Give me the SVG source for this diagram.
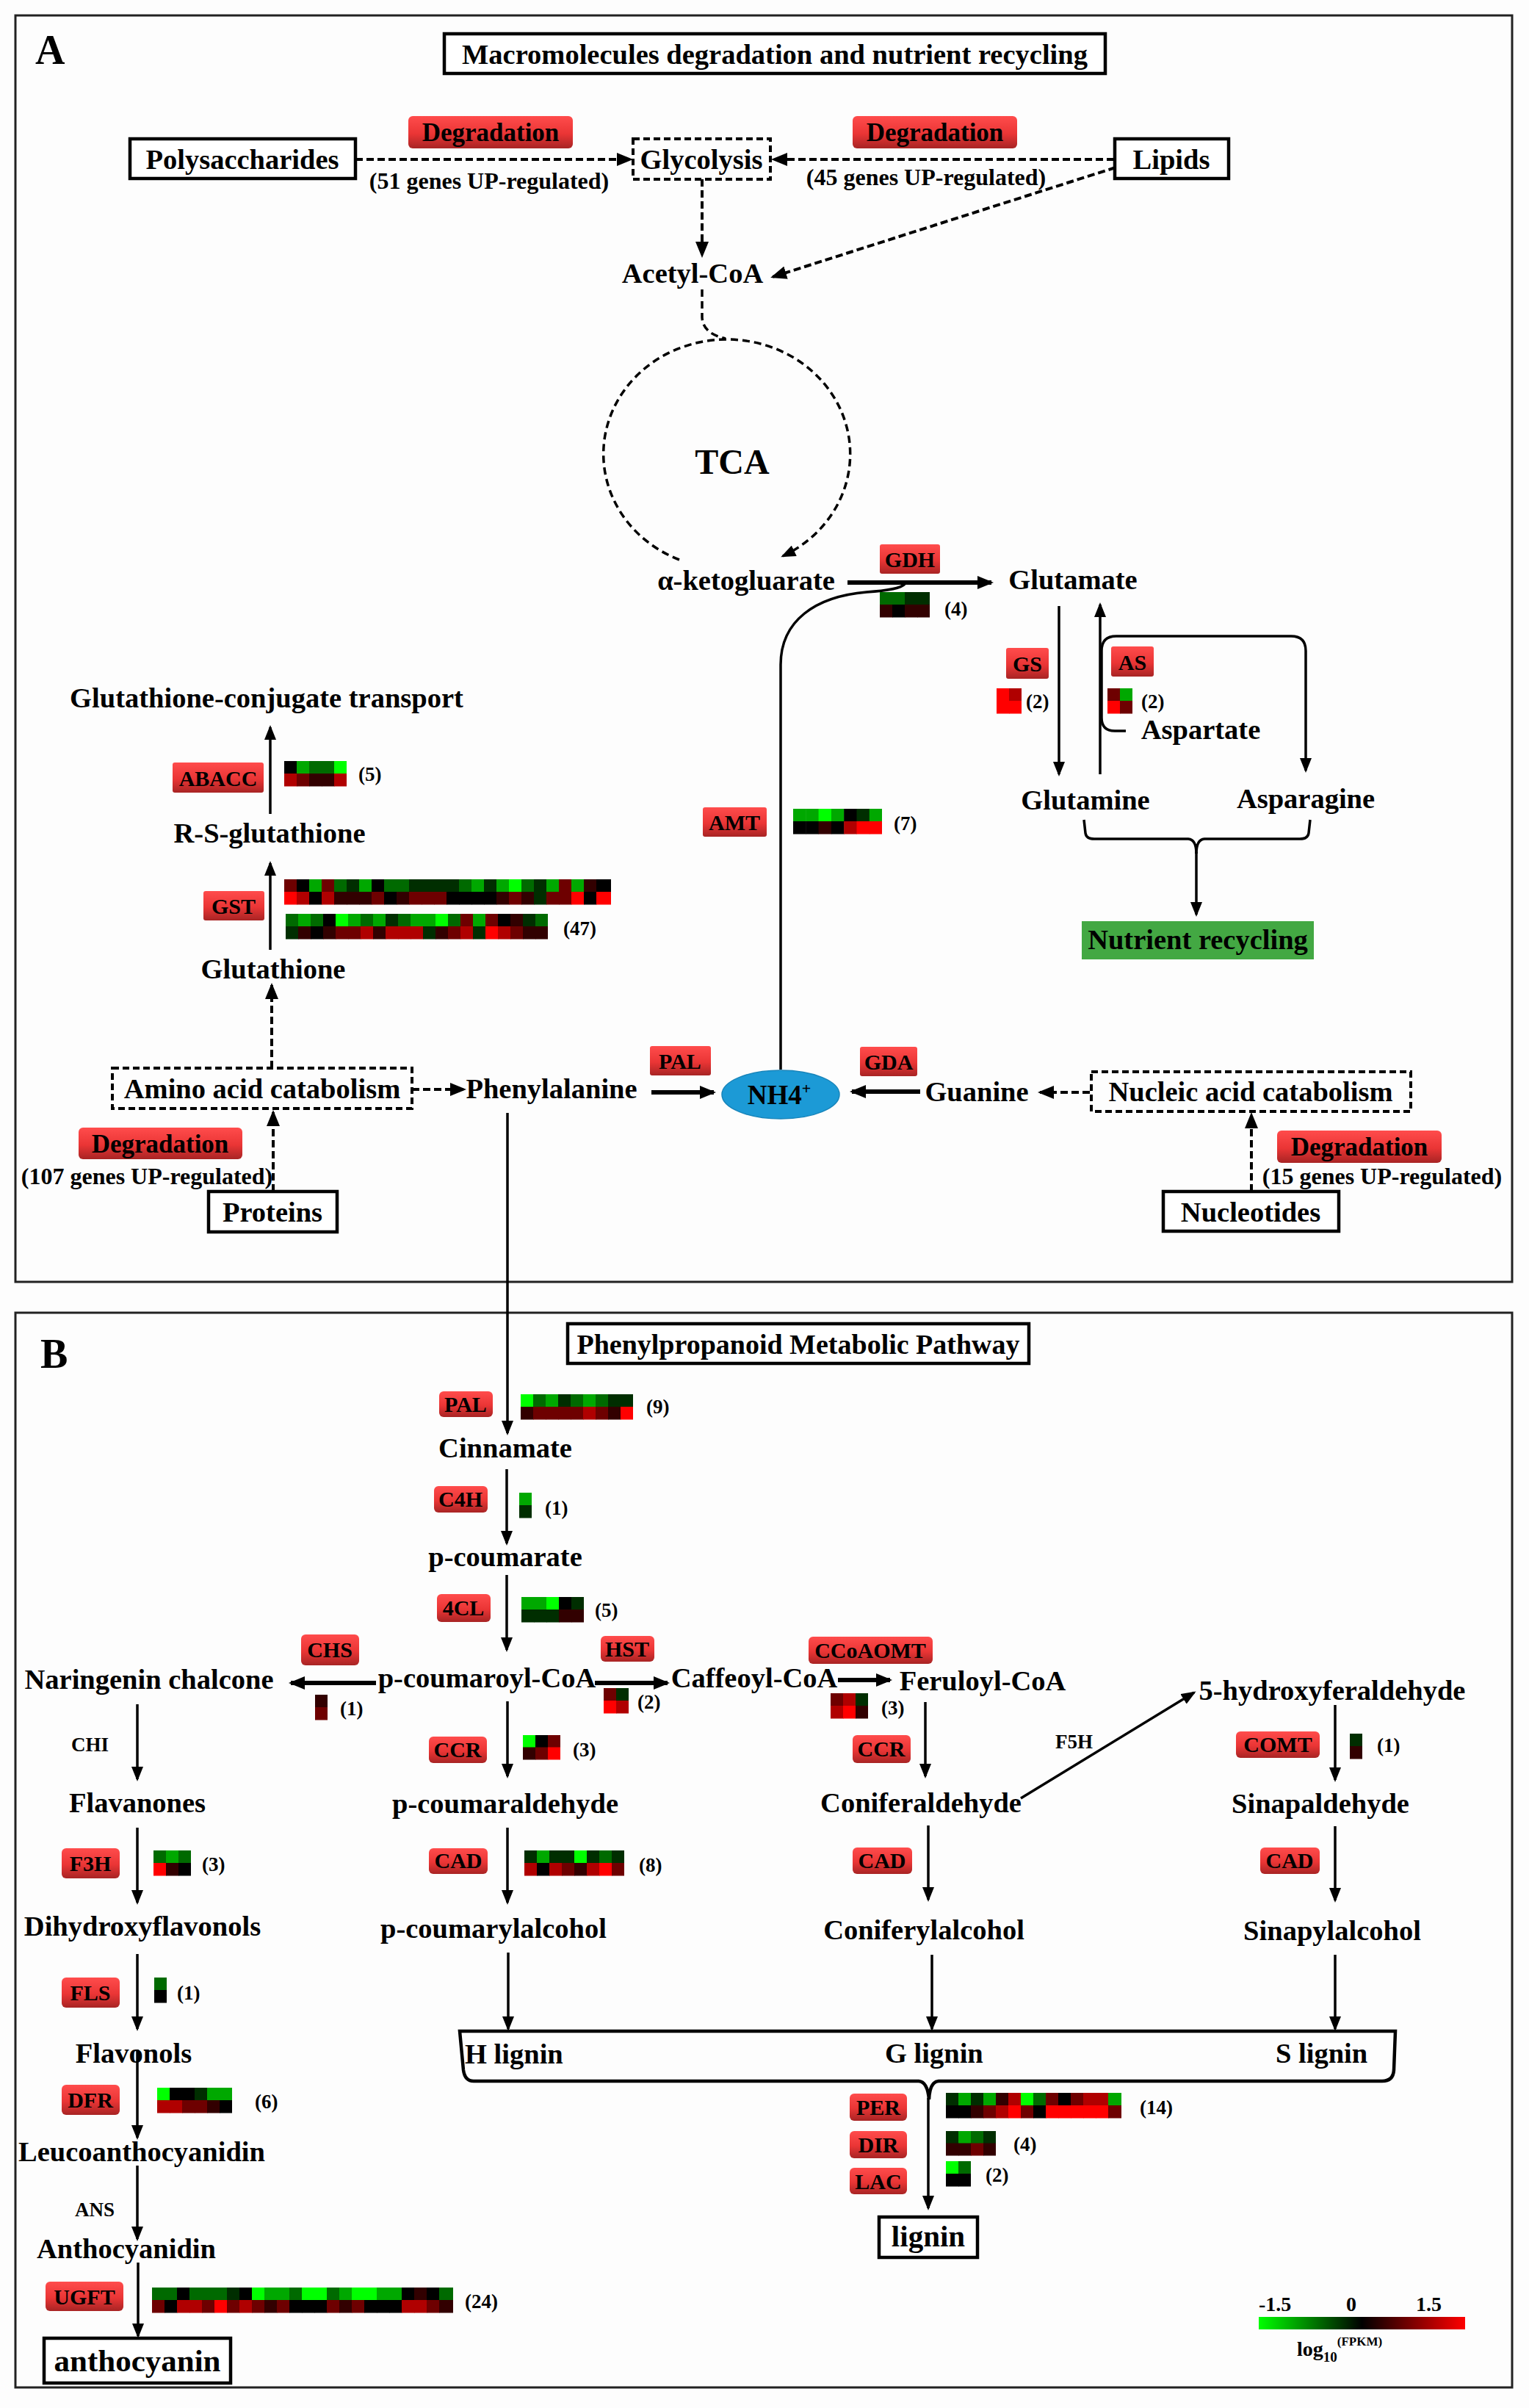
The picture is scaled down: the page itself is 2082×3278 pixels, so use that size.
<svg xmlns="http://www.w3.org/2000/svg" width="2082" height="3278" viewBox="0 0 2082 3278">
<defs>
<linearGradient id="bad" x1="0" y1="0" x2="0" y2="1">
<stop offset="0" stop-color="#FF4C4C"/><stop offset="0.55" stop-color="#EA3535"/><stop offset="1" stop-color="#A82424"/>
</linearGradient>
<linearGradient id="cbar" x1="0" y1="0" x2="1" y2="0">
<stop offset="0" stop-color="#00FF00"/><stop offset="0.5" stop-color="#000000"/><stop offset="1" stop-color="#FF0000"/>
</linearGradient>
<marker id="ah" markerWidth="22" markerHeight="18" refX="19" refY="9" orient="auto" markerUnits="userSpaceOnUse"><path d="M0,0 L22,9 L0,18 z" fill="#000"/></marker>
<marker id="ahs" markerWidth="20" markerHeight="16" refX="17" refY="8" orient="auto" markerUnits="userSpaceOnUse"><path d="M0,0 L20,8 L0,16 z" fill="#000"/></marker>
<style>
text{font-family:"Liberation Serif","Times New Roman",serif;font-weight:bold;fill:#000}
.n{font-size:38.5px}
.nm{font-size:38.5px;text-anchor:middle}
.bd{font-size:30px;text-anchor:middle}
.c{font-size:27px}
.dg{font-size:35px;text-anchor:middle}
.up{font-size:32px;text-anchor:middle}
.lab{font-size:27px}
.badge{fill:url(#bad)}
.box{fill:#fff;stroke:#000;stroke-width:4.5}
.dbox{fill:none;stroke:#000;stroke-width:4;stroke-dasharray:9 5}
.frame{fill:none;stroke:#222;stroke-width:3}
.ln{fill:none;stroke:#000;stroke-width:3.5}
.lnm{fill:none;stroke:#000;stroke-width:3.5;marker-end:url(#ahs)}
.thk{fill:none;stroke:#000;stroke-width:6;marker-end:url(#ah)}
.dsh{fill:none;stroke:#000;stroke-width:4;stroke-dasharray:10 5;marker-end:url(#ah)}
.g3{fill:#00FF00}.g2{fill:#00A800}.g1{fill:#006A00}.g0{fill:#002E00}.k{fill:#000}.r0{fill:#320000}.r1{fill:#6E0000}.r2{fill:#B00000}.r3{fill:#FF0000}
</style>
</defs>
<rect width="2082" height="3278" fill="#FDFDFD"/>
<rect class="frame" x="21" y="21" width="2038" height="1724"/>
<rect class="frame" x="21" y="1787" width="2038" height="1463"/>

<g id="connectors">
<line class="dsh" x1="484" y1="217" x2="859" y2="217"/>
<line class="dsh" x1="1517" y1="217" x2="1053" y2="217"/>
<line class="dsh" x1="956" y1="244" x2="956" y2="348"/>
<line class="dsh" x1="1519" y1="228" x2="1052" y2="377"/>
<path d="M956 394 L956 432 Q957 454 988 461" fill="none" stroke="#000" stroke-width="3.5" stroke-dasharray="10 6"/>
<path d="M925 762 A168 156 0 1 1 1066 757" fill="none" stroke="#000" stroke-width="3.5" stroke-dasharray="10 6" marker-end="url(#ahs)"/>
<line class="thk" x1="1154" y1="793" x2="1350" y2="793"/>
<path class="ln" d="M1063 1456 L1063 905 C1063 845 1110 812 1180 806 Q1225 803 1232 795"/>
<line class="lnm" x1="1442" y1="825" x2="1442" y2="1054"/>
<line class="lnm" x1="1498" y1="1054" x2="1498" y2="823"/>
<path class="lnm" d="M1533 995 L1518 995 Q1500 995 1500 977 L1500 886 Q1500 866 1520 866 L1758 866 Q1778 866 1778 886 L1778 1049"/>
<path class="ln" d="M1476 1116 L1478 1134 Q1479 1142 1490 1142 L1618 1142 Q1629 1143 1629 1162"/>
<path class="ln" d="M1629 1162 Q1629 1143 1640 1142 L1770 1142 Q1781 1142 1782 1134 L1784 1116"/>
<line class="lnm" x1="1629" y1="1160" x2="1629" y2="1245"/>
<line class="lnm" x1="368" y1="1108" x2="368" y2="990"/>
<line class="lnm" x1="368" y1="1293" x2="368" y2="1175"/>
<line class="dsh" x1="370" y1="1454" x2="370" y2="1341"/>
<line class="dsh" x1="372" y1="1622" x2="372" y2="1514"/>
<line class="dsh" x1="561" y1="1483" x2="632" y2="1483"/>
<line class="thk" x1="887" y1="1487" x2="972" y2="1487"/>
<line class="thk" x1="1253" y1="1486" x2="1160" y2="1486"/>
<line class="dsh" x1="1484" y1="1487" x2="1416" y2="1487"/>
<line class="dsh" x1="1704" y1="1622" x2="1704" y2="1517"/>
<line class="lnm" x1="691" y1="1515" x2="691" y2="1951"/>
<line class="lnm" x1="690" y1="2000" x2="690" y2="2101"/>
<line class="lnm" x1="690" y1="2144" x2="690" y2="2246"/>
<line class="thk" x1="512" y1="2291" x2="396" y2="2291"/>
<line class="thk" x1="810" y1="2291" x2="909" y2="2291"/>
<line class="thk" x1="1141" y1="2287" x2="1212" y2="2287"/>
<line class="lnm" x1="187" y1="2320" x2="187" y2="2422"/>
<line class="lnm" x1="691" y1="2316" x2="691" y2="2418"/>
<line class="lnm" x1="1260" y1="2317" x2="1260" y2="2418"/>
<line class="lnm" x1="1390" y1="2448" x2="1626" y2="2304"/>
<line class="lnm" x1="1818" y1="2321" x2="1818" y2="2423"/>
<line class="lnm" x1="187" y1="2488" x2="187" y2="2590"/>
<line class="lnm" x1="691" y1="2488" x2="691" y2="2590"/>
<line class="lnm" x1="1264" y1="2485" x2="1264" y2="2586"/>
<line class="lnm" x1="1818" y1="2486" x2="1818" y2="2587"/>
<line class="lnm" x1="187" y1="2660" x2="187" y2="2762"/>
<line class="lnm" x1="692" y1="2658" x2="692" y2="2762"/>
<line class="lnm" x1="1269" y1="2661" x2="1269" y2="2762"/>
<line class="lnm" x1="1818" y1="2661" x2="1818" y2="2762"/>
<line class="lnm" x1="187" y1="2790" x2="187" y2="2910"/>
<line class="lnm" x1="187" y1="2948" x2="187" y2="3048"/>
<line class="lnm" x1="188" y1="3080" x2="188" y2="3180"/>
<line class="lnm" x1="1264" y1="2856" x2="1264" y2="3006"/>
</g>

<g id="title-A"><text x="48" y="87" font-size="56">A</text>
<rect class="box" x="605" y="46" width="900" height="54"/>
<text x="1055" y="87" font-size="38.5" text-anchor="middle">Macromolecules degradation and nutrient recycling</text></g>

<g id="polysaccharides"><rect class="box" x="177" y="189" width="307" height="54"/><text class="nm" x="330" y="230">Polysaccharides</text></g>
<g id="glycolysis"><rect class="dbox" x="862" y="189" width="187" height="55"/><text class="nm" x="955" y="230">Glycolysis</text></g>
<g id="lipids"><rect class="box" x="1518" y="189" width="155" height="54"/><text class="nm" x="1595" y="230">Lipids</text></g>
<g id="deg1"><rect class="badge" x="556" y="158" width="224" height="44" rx="6"/><text class="dg" x="668" y="192">Degradation</text><text class="up" x="666" y="257">(51 genes UP-regulated)</text></g>
<g id="deg2"><rect class="badge" x="1161" y="158" width="224" height="44" rx="6"/><text class="dg" x="1273" y="192">Degradation</text><text class="up" x="1261" y="252">(45 genes UP-regulated)</text></g>
<g id="acetylcoa"><text class="nm" x="943" y="385">Acetyl-CoA</text></g>
<g id="tca"><text x="997" y="645" font-size="48" text-anchor="middle">TCA</text></g>
<g id="aketo"><text class="nm" x="1016" y="803">α-ketogluarate</text></g>
<g id="gdh"><rect class="badge" x="1198" y="741" width="82" height="40" rx="3"/><text class="bd" x="1239" y="772">GDH</text>
<g transform="translate(1198,806)"><rect class="g1" x="0" y="0" width="17.5" height="17.5"/><rect class="g1" x="17" y="0" width="17.5" height="17.5"/><rect class="g0" x="34" y="0" width="17.5" height="17.5"/><rect class="g0" x="51" y="0" width="17" height="17.5"/><rect class="r0" x="0" y="17" width="17.5" height="17.5"/><rect class="k" x="17" y="17" width="17.5" height="17.5"/><rect class="r0" x="34" y="17" width="17.5" height="17.5"/><rect class="r0" x="51" y="17" width="17" height="17.5"/></g>
<text class="c" x="1286" y="838">(4)</text></g>
<g id="glutamate"><text class="nm" x="1461" y="802">Glutamate</text></g>
<g id="gs"><rect class="badge" x="1370" y="882" width="58" height="42" rx="3"/><text class="bd" x="1399" y="914">GS</text>
<g transform="translate(1357,937)"><rect class="r3" x="0" y="0" width="17.5" height="17.5"/><rect class="r2" x="17" y="0" width="17" height="17.5"/><rect class="r3" x="0" y="17" width="17.5" height="17.5"/><rect class="r3" x="17" y="17" width="17" height="17.5"/></g>
<text class="c" x="1397" y="964">(2)</text></g>
<g id="as"><rect class="badge" x="1513" y="880" width="58" height="41" rx="3"/><text class="bd" x="1542" y="912">AS</text>
<g transform="translate(1508,937)"><rect class="r1" x="0" y="0" width="17.5" height="17.5"/><rect class="g2" x="17" y="0" width="17" height="17.5"/><rect class="r3" x="0" y="17" width="17.5" height="17.5"/><rect class="r1" x="17" y="17" width="17" height="17.5"/></g>
<text class="c" x="1554" y="964">(2)</text></g>
<g id="aspartate"><text class="nm" x="1635" y="1006">Aspartate</text></g>
<g id="glutamine"><text class="nm" x="1478" y="1102">Glutamine</text></g>
<g id="asparagine"><text class="nm" x="1778" y="1100">Asparagine</text></g>
<g id="nutrient"><rect x="1473" y="1254" width="316" height="52" fill="#43A843"/><text class="nm" x="1631" y="1292">Nutrient recycling</text></g>
<g id="gct"><text class="nm" x="363" y="963">Glutathione-conjugate transport</text></g>
<g id="abacc"><rect class="badge" x="235" y="1038" width="124" height="41" rx="3"/><text class="bd" x="297" y="1070">ABACC</text>
<g transform="translate(387,1036)"><rect class="k" x="0" y="0" width="17.5" height="17.5"/><rect class="g2" x="17" y="0" width="17.5" height="17.5"/><rect class="g1" x="34" y="0" width="17.5" height="17.5"/><rect class="g1" x="51" y="0" width="17.5" height="17.5"/><rect class="g3" x="68" y="0" width="17" height="17.5"/><rect class="r2" x="0" y="17" width="17.5" height="17.5"/><rect class="r1" x="17" y="17" width="17.5" height="17.5"/><rect class="r0" x="34" y="17" width="17.5" height="17.5"/><rect class="r0" x="51" y="17" width="17.5" height="17.5"/><rect class="r2" x="68" y="17" width="17" height="17.5"/></g>
<text class="c" x="488" y="1063">(5)</text></g>
<g id="rsg"><text class="nm" x="367" y="1147">R-S-glutathione</text></g>
<g id="gst"><rect class="badge" x="277" y="1213" width="83" height="40" rx="3"/><text class="bd" x="318" y="1244">GST</text>
<g transform="translate(387,1197)">
<rect class="r1" x="0" y="0" width="17.5" height="17.5"/><rect class="k" x="17" y="0" width="17.5" height="17.5"/><rect class="g2" x="34" y="0" width="17.5" height="17.5"/><rect class="r1" x="51" y="0" width="17.5" height="17.5"/><rect class="g1" x="68" y="0" width="17.5" height="17.5"/><rect class="g0" x="85" y="0" width="17.5" height="17.5"/><rect class="g2" x="102" y="0" width="17.5" height="17.5"/><rect class="k" x="119" y="0" width="17.5" height="17.5"/><rect class="g1" x="136" y="0" width="17.5" height="17.5"/><rect class="g1" x="153" y="0" width="17.5" height="17.5"/><rect class="g0" x="170" y="0" width="17.5" height="17.5"/><rect class="g0" x="187" y="0" width="17.5" height="17.5"/><rect class="g0" x="204" y="0" width="17.5" height="17.5"/><rect class="g0" x="221" y="0" width="17.5" height="17.5"/><rect class="g1" x="238" y="0" width="17.5" height="17.5"/><rect class="g2" x="255" y="0" width="17.5" height="17.5"/><rect class="g0" x="272" y="0" width="17.5" height="17.5"/><rect class="g2" x="289" y="0" width="17.5" height="17.5"/><rect class="g3" x="306" y="0" width="17.5" height="17.5"/><rect class="g1" x="323" y="0" width="17.5" height="17.5"/><rect class="g0" x="340" y="0" width="17.5" height="17.5"/><rect class="g2" x="357" y="0" width="17.5" height="17.5"/><rect class="r1" x="374" y="0" width="17.5" height="17.5"/><rect class="g2" x="391" y="0" width="17.5" height="17.5"/><rect class="r0" x="408" y="0" width="17.5" height="17.5"/><rect class="k" x="425" y="0" width="20" height="17.5"/>
<rect class="r3" x="0" y="17" width="17.5" height="17.5"/><rect class="r2" x="17" y="17" width="17.5" height="17.5"/><rect class="k" x="34" y="17" width="17.5" height="17.5"/><rect class="r2" x="51" y="17" width="17.5" height="17.5"/><rect class="r0" x="68" y="17" width="17.5" height="17.5"/><rect class="r0" x="85" y="17" width="17.5" height="17.5"/><rect class="r0" x="102" y="17" width="17.5" height="17.5"/><rect class="r1" x="119" y="17" width="17.5" height="17.5"/><rect class="k" x="136" y="17" width="17.5" height="17.5"/><rect class="r0" x="153" y="17" width="17.5" height="17.5"/><rect class="r1" x="170" y="17" width="17.5" height="17.5"/><rect class="r1" x="187" y="17" width="17.5" height="17.5"/><rect class="r1" x="204" y="17" width="17.5" height="17.5"/><rect class="k" x="221" y="17" width="17.5" height="17.5"/><rect class="k" x="238" y="17" width="17.5" height="17.5"/><rect class="k" x="255" y="17" width="17.5" height="17.5"/><rect class="k" x="272" y="17" width="17.5" height="17.5"/><rect class="r0" x="289" y="17" width="17.5" height="17.5"/><rect class="r1" x="306" y="17" width="17.5" height="17.5"/><rect class="r0" x="323" y="17" width="17.5" height="17.5"/><rect class="g0" x="340" y="17" width="17.5" height="17.5"/><rect class="r1" x="357" y="17" width="17.5" height="17.5"/><rect class="r1" x="374" y="17" width="17.5" height="17.5"/><rect class="r3" x="391" y="17" width="17.5" height="17.5"/><rect class="k" x="408" y="17" width="17.5" height="17.5"/><rect class="r3" x="425" y="17" width="20" height="17.5"/></g>
<g transform="translate(389,1244)">
<rect class="g1" x="0" y="0" width="17.5" height="17.5"/><rect class="g2" x="17" y="0" width="17.5" height="17.5"/><rect class="g1" x="34" y="0" width="17.5" height="17.5"/><rect class="k" x="51" y="0" width="17.5" height="17.5"/><rect class="g3" x="68" y="0" width="17.5" height="17.5"/><rect class="g2" x="85" y="0" width="17.5" height="17.5"/><rect class="g1" x="102" y="0" width="17.5" height="17.5"/><rect class="g2" x="119" y="0" width="17.5" height="17.5"/><rect class="g0" x="136" y="0" width="17.5" height="17.5"/><rect class="g1" x="153" y="0" width="17.5" height="17.5"/><rect class="g2" x="170" y="0" width="17.5" height="17.5"/><rect class="g2" x="187" y="0" width="17.5" height="17.5"/><rect class="g3" x="204" y="0" width="17.5" height="17.5"/><rect class="g1" x="221" y="0" width="17.5" height="17.5"/><rect class="r1" x="238" y="0" width="17.5" height="17.5"/><rect class="g2" x="255" y="0" width="17.5" height="17.5"/><rect class="r1" x="272" y="0" width="17.5" height="17.5"/><rect class="k" x="289" y="0" width="17.5" height="17.5"/><rect class="r0" x="306" y="0" width="17.5" height="17.5"/><rect class="g0" x="323" y="0" width="17.5" height="17.5"/><rect class="g1" x="340" y="0" width="17" height="17.5"/>
<rect class="g0" x="0" y="17" width="17.5" height="17.5"/><rect class="r0" x="17" y="17" width="17.5" height="17.5"/><rect class="k" x="34" y="17" width="17.5" height="17.5"/><rect class="r0" x="51" y="17" width="17.5" height="17.5"/><rect class="r1" x="68" y="17" width="17.5" height="17.5"/><rect class="r1" x="85" y="17" width="17.5" height="17.5"/><rect class="r2" x="102" y="17" width="17.5" height="17.5"/><rect class="r0" x="119" y="17" width="17.5" height="17.5"/><rect class="r2" x="136" y="17" width="17.5" height="17.5"/><rect class="r2" x="153" y="17" width="17.5" height="17.5"/><rect class="r2" x="170" y="17" width="17.5" height="17.5"/><rect class="g0" x="187" y="17" width="17.5" height="17.5"/><rect class="r0" x="204" y="17" width="17.5" height="17.5"/><rect class="r1" x="221" y="17" width="17.5" height="17.5"/><rect class="r2" x="238" y="17" width="17.5" height="17.5"/><rect class="g0" x="255" y="17" width="17.5" height="17.5"/><rect class="r3" x="272" y="17" width="17.5" height="17.5"/><rect class="r2" x="289" y="17" width="17.5" height="17.5"/><rect class="r1" x="306" y="17" width="17.5" height="17.5"/><rect class="r0" x="323" y="17" width="17.5" height="17.5"/><rect class="r0" x="340" y="17" width="17" height="17.5"/></g>
<text class="c" x="767" y="1273">(47)</text></g>
<g id="glutathione"><text class="nm" x="372" y="1332">Glutathione</text></g>
<g id="amt"><rect class="badge" x="957" y="1099" width="87" height="40" rx="3"/><text class="bd" x="1000" y="1130">AMT</text>
<g transform="translate(1080,1101)"><rect class="g2" x="0" y="0" width="17.8" height="17.5"/><rect class="g2" x="17.3" y="0" width="17.8" height="17.5"/><rect class="g3" x="34.6" y="0" width="17.8" height="17.5"/><rect class="g2" x="51.9" y="0" width="17.8" height="17.5"/><rect class="k" x="69.2" y="0" width="17.8" height="17.5"/><rect class="g0" x="86.5" y="0" width="17.8" height="17.5"/><rect class="g2" x="103.8" y="0" width="17.2" height="17.5"/><rect class="k" x="0" y="17" width="17.8" height="17.5"/><rect class="k" x="17.3" y="17" width="17.8" height="17.5"/><rect class="r0" x="34.6" y="17" width="17.8" height="17.5"/><rect class="k" x="51.9" y="17" width="17.8" height="17.5"/><rect class="r2" x="69.2" y="17" width="17.8" height="17.5"/><rect class="r3" x="86.5" y="17" width="17.8" height="17.5"/><rect class="r3" x="103.8" y="17" width="17.2" height="17.5"/></g>
<text class="c" x="1217" y="1130">(7)</text></g>
<g id="amino"><rect class="dbox" x="153" y="1454" width="408" height="55"/><text class="nm" x="357" y="1495">Amino acid catabolism</text></g>
<g id="phenylalanine"><text class="nm" x="751" y="1495">Phenylalanine</text></g>
<g id="palA"><rect class="badge" x="885" y="1424" width="83" height="40" rx="3"/><text class="bd" x="926" y="1455">PAL</text></g>
<g id="nh4"><ellipse cx="1063" cy="1490" rx="80" ry="33" fill="#1C9AD6" stroke="#1784BA" stroke-width="1.5"/><text x="1061" y="1503" font-size="37" text-anchor="middle">NH4<tspan dy="-14" font-size="22">+</tspan></text></g>
<g id="gda"><rect class="badge" x="1171" y="1425" width="78" height="40" rx="3"/><text class="bd" x="1210" y="1456">GDA</text></g>
<g id="guanine"><text class="nm" x="1330" y="1499">Guanine</text></g>
<g id="nucleic"><rect class="dbox" x="1486" y="1459" width="435" height="54"/><text class="nm" x="1703" y="1499">Nucleic acid catabolism</text></g>
<g id="deg3"><rect class="badge" x="1739" y="1539" width="224" height="44" rx="6"/><text class="dg" x="1851" y="1573">Degradation</text><text class="up" x="1882" y="1612">(15 genes UP-regulated)</text></g>
<g id="deg4"><rect class="badge" x="107" y="1535" width="223" height="43" rx="6"/><text class="dg" x="218" y="1569">Degradation</text><text class="up" x="200" y="1612">(107 genes UP-regulated)</text></g>
<g id="proteins"><rect class="box" x="284" y="1622" width="175" height="55"/><text class="nm" x="371" y="1663">Proteins</text></g>
<g id="nucleotides"><rect class="box" x="1584" y="1622" width="239" height="54"/><text class="nm" x="1703" y="1663">Nucleotides</text></g>

<g id="title-B"><text x="55" y="1862" font-size="56">B</text>
<rect class="box" x="773" y="1802" width="628" height="54"/><text x="1087" y="1843" font-size="38" text-anchor="middle">Phenylpropanoid Metabolic Pathway</text></g>

<g id="palB"><rect class="badge" x="598" y="1894" width="73" height="35" rx="6"/><text class="bd" x="634" y="1922">PAL</text>
<g transform="translate(709,1898)"><rect class="g3" x="0" y="0" width="17.5" height="17.5"/><rect class="g1" x="17" y="0" width="17.5" height="17.5"/><rect class="g2" x="34" y="0" width="17.5" height="17.5"/><rect class="g0" x="51" y="0" width="17.5" height="17.5"/><rect class="g1" x="68" y="0" width="17.5" height="17.5"/><rect class="g2" x="85" y="0" width="17.5" height="17.5"/><rect class="g1" x="102" y="0" width="17.5" height="17.5"/><rect class="g0" x="119" y="0" width="17.5" height="17.5"/><rect class="g0" x="136" y="0" width="17" height="17.5"/><rect class="r0" x="0" y="17" width="17.5" height="17.5"/><rect class="r1" x="17" y="17" width="17.5" height="17.5"/><rect class="r1" x="34" y="17" width="17.5" height="17.5"/><rect class="r1" x="51" y="17" width="17.5" height="17.5"/><rect class="r1" x="68" y="17" width="17.5" height="17.5"/><rect class="r2" x="85" y="17" width="17.5" height="17.5"/><rect class="r1" x="102" y="17" width="17.5" height="17.5"/><rect class="r0" x="119" y="17" width="17.5" height="17.5"/><rect class="r3" x="136" y="17" width="17" height="17.5"/></g>
<text class="c" x="880" y="1924">(9)</text></g>
<g id="cinnamate"><text class="nm" x="688" y="1984">Cinnamate</text></g>
<g id="c4h"><rect class="badge" x="591" y="2023" width="73" height="36" rx="6"/><text class="bd" x="627" y="2051">C4H</text>
<g transform="translate(707,2032)"><rect class="g2" x="0" y="0" width="17" height="17.5"/><rect class="g0" x="0" y="17" width="17" height="17.5"/></g>
<text class="c" x="742" y="2062">(1)</text></g>
<g id="pcoumarate"><text class="nm" x="688" y="2132">p-coumarate</text></g>
<g id="c4l"><rect class="badge" x="595" y="2170" width="73" height="38" rx="6"/><text class="bd" x="631" y="2199">4CL</text>
<g transform="translate(710,2174)"><rect class="g2" x="0" y="0" width="17.5" height="17.5"/><rect class="g2" x="17" y="0" width="17.5" height="17.5"/><rect class="g3" x="34" y="0" width="17.5" height="17.5"/><rect class="k" x="51" y="0" width="17.5" height="17.5"/><rect class="g0" x="68" y="0" width="17" height="17.5"/><rect class="g0" x="0" y="17" width="17.5" height="17.5"/><rect class="g0" x="17" y="17" width="17.5" height="17.5"/><rect class="g0" x="34" y="17" width="17.5" height="17.5"/><rect class="r0" x="51" y="17" width="17.5" height="17.5"/><rect class="r0" x="68" y="17" width="17" height="17.5"/></g>
<text class="c" x="810" y="2201">(5)</text></g>
<g id="pcoumaroylcoa"><text class="nm" x="663" y="2297">p-coumaroyl-CoA</text></g>
<g id="naringenin"><text class="nm" x="203" y="2299">Naringenin chalcone</text></g>
<g id="chs"><rect class="badge" x="410" y="2225" width="79" height="42" rx="6"/><text class="bd" x="449" y="2256">CHS</text>
<g transform="translate(429,2307)"><rect class="r0" x="0" y="0" width="17" height="17.5"/><rect class="r1" x="0" y="17" width="17" height="17.5"/></g>
<text class="c" x="463" y="2335">(1)</text></g>
<g id="hst"><rect class="badge" x="818" y="2227" width="73" height="35" rx="6"/><text class="bd" x="854" y="2255">HST</text>
<g transform="translate(822,2298)"><rect class="r1" x="0" y="0" width="17.5" height="17.5"/><rect class="g0" x="17" y="0" width="17" height="17.5"/><rect class="r3" x="0" y="17" width="17.5" height="17.5"/><rect class="r2" x="17" y="17" width="17" height="17.5"/></g>
<text class="c" x="868" y="2326">(2)</text></g>
<g id="caffeoyl"><text class="nm" x="1027" y="2297">Caffeoyl-CoA</text></g>
<g id="ccoaomt"><rect class="badge" x="1101" y="2228" width="169" height="37" rx="6"/><text class="bd" x="1185" y="2257">CCoAOMT</text>
<g transform="translate(1131,2305)"><rect class="r1" x="0" y="0" width="17.5" height="17.5"/><rect class="r2" x="17" y="0" width="17.5" height="17.5"/><rect class="g0" x="34" y="0" width="17" height="17.5"/><rect class="r2" x="0" y="17" width="17.5" height="17.5"/><rect class="r3" x="17" y="17" width="17.5" height="17.5"/><rect class="r0" x="34" y="17" width="17" height="17.5"/></g>
<text class="c" x="1200" y="2334">(3)</text></g>
<g id="feruloyl"><text class="nm" x="1338" y="2301">Feruloyl-CoA</text></g>
<g id="hydroxyfer"><text class="nm" x="1814" y="2314">5-hydroxyferaldehyde</text></g>
<g id="chi"><text class="lab" x="97" y="2384">CHI</text></g>
<g id="ccr1"><rect class="badge" x="584" y="2364" width="79" height="36" rx="6"/><text class="bd" x="623" y="2392">CCR</text>
<g transform="translate(712,2362)"><rect class="g3" x="0" y="0" width="17.5" height="17"/><rect class="k" x="17" y="0" width="17.5" height="17"/><rect class="r1" x="34" y="0" width="17" height="17"/><rect class="r0" x="0" y="16.5" width="17.5" height="17"/><rect class="r1" x="17" y="16.5" width="17.5" height="17"/><rect class="r3" x="34" y="16.5" width="17" height="17"/></g>
<text class="c" x="780" y="2391">(3)</text></g>
<g id="ccr2"><rect class="badge" x="1161" y="2362" width="79" height="38" rx="6"/><text class="bd" x="1200" y="2391">CCR</text></g>
<g id="f5h"><text class="lab" x="1437" y="2380">F5H</text></g>
<g id="comt"><rect class="badge" x="1683" y="2357" width="114" height="36" rx="6"/><text class="bd" x="1740" y="2385">COMT</text>
<g transform="translate(1838,2360)"><rect class="g0" x="0" y="0" width="17" height="17.5"/><rect class="r0" x="0" y="17" width="17" height="17.5"/></g>
<text class="c" x="1875" y="2385">(1)</text></g>
<g id="flavanones"><text class="nm" x="187" y="2467">Flavanones</text></g>
<g id="pcoumaraldehyde"><text class="nm" x="688" y="2468">p-coumaraldehyde</text></g>
<g id="coniferaldehyde"><text class="nm" x="1254" y="2467">Coniferaldehyde</text></g>
<g id="sinapaldehyde"><text class="nm" x="1798" y="2468">Sinapaldehyde</text></g>
<g id="f3h"><rect class="badge" x="84" y="2516" width="79" height="41" rx="6"/><text class="bd" x="123" y="2547">F3H</text>
<g transform="translate(209,2519)"><rect class="g1" x="0" y="0" width="17.5" height="17.5"/><rect class="g2" x="17" y="0" width="17.5" height="17.5"/><rect class="g1" x="34" y="0" width="17" height="17.5"/><rect class="r3" x="0" y="17" width="17.5" height="17.5"/><rect class="r0" x="17" y="17" width="17.5" height="17.5"/><rect class="k" x="34" y="17" width="17" height="17.5"/></g>
<text class="c" x="275" y="2547">(3)</text></g>
<g id="cad1"><rect class="badge" x="584" y="2516" width="80" height="35" rx="6"/><text class="bd" x="624" y="2543">CAD</text>
<g transform="translate(714,2519)"><rect class="g0" x="0" y="0" width="17.5" height="17.5"/><rect class="g2" x="17" y="0" width="17.5" height="17.5"/><rect class="g0" x="34" y="0" width="17.5" height="17.5"/><rect class="g0" x="51" y="0" width="17.5" height="17.5"/><rect class="g3" x="68" y="0" width="17.5" height="17.5"/><rect class="g0" x="85" y="0" width="17.5" height="17.5"/><rect class="g1" x="102" y="0" width="17.5" height="17.5"/><rect class="g0" x="119" y="0" width="17" height="17.5"/><rect class="r2" x="0" y="17" width="17.5" height="17.5"/><rect class="k" x="17" y="17" width="17.5" height="17.5"/><rect class="r2" x="34" y="17" width="17.5" height="17.5"/><rect class="r1" x="51" y="17" width="17.5" height="17.5"/><rect class="r0" x="68" y="17" width="17.5" height="17.5"/><rect class="r2" x="85" y="17" width="17.5" height="17.5"/><rect class="r3" x="102" y="17" width="17.5" height="17.5"/><rect class="r1" x="119" y="17" width="17" height="17.5"/></g>
<text class="c" x="870" y="2548">(8)</text></g>
<g id="cad2"><rect class="badge" x="1161" y="2515" width="81" height="36" rx="6"/><text class="bd" x="1201" y="2543">CAD</text></g>
<g id="cad3"><rect class="badge" x="1716" y="2515" width="81" height="36" rx="6"/><text class="bd" x="1756" y="2543">CAD</text></g>
<g id="dihydroxyflavonols"><text class="nm" x="194" y="2635">Dihydroxyflavonols</text></g>
<g id="pcoumarylalcohol"><text class="nm" x="672" y="2638">p-coumarylalcohol</text></g>
<g id="coniferylalcohol"><text class="nm" x="1258" y="2640">Coniferylalcohol</text></g>
<g id="sinapylalcohol"><text class="nm" x="1814" y="2641">Sinapylalcohol</text></g>
<g id="fls"><rect class="badge" x="84" y="2692" width="79" height="41" rx="6"/><text class="bd" x="123" y="2723">FLS</text>
<g transform="translate(210,2692)"><rect class="g1" x="0" y="0" width="17" height="17.5"/><rect class="k" x="0" y="17" width="17" height="17.5"/></g>
<text class="c" x="241" y="2722">(1)</text></g>
<g id="flavonols"><text class="nm" x="182" y="2808">Flavonols</text></g>
<g id="lignins"><path d="M626 2765 L1900 2765 L1898 2818 Q1897 2833 1882 2833 L1278 2833 Q1266 2834 1265 2858 Q1263 2834 1251 2833 L645 2833 Q633 2833 631 2818 Z" fill="none" stroke="#000" stroke-width="4.5"/>
<text class="n" x="633" y="2809">H lignin</text><text class="n" x="1205" y="2808">G lignin</text><text class="n" x="1737" y="2808">S lignin</text></g>
<g id="dfr"><rect class="badge" x="84" y="2838" width="79" height="41" rx="6"/><text class="bd" x="123" y="2869">DFR</text>
<g transform="translate(214,2842)"><rect class="g3" x="0" y="0" width="17.5" height="17.5"/><rect class="k" x="17" y="0" width="17.5" height="17.5"/><rect class="k" x="34" y="0" width="17.5" height="17.5"/><rect class="g0" x="51" y="0" width="17.5" height="17.5"/><rect class="g2" x="68" y="0" width="17.5" height="17.5"/><rect class="g2" x="85" y="0" width="17" height="17.5"/><rect class="r2" x="0" y="17" width="17.5" height="17.5"/><rect class="r2" x="17" y="17" width="17.5" height="17.5"/><rect class="r1" x="34" y="17" width="17.5" height="17.5"/><rect class="r1" x="51" y="17" width="17.5" height="17.5"/><rect class="r0" x="68" y="17" width="17.5" height="17.5"/><rect class="k" x="85" y="17" width="17" height="17.5"/></g>
<text class="c" x="347" y="2870">(6)</text></g>
<g id="per"><rect class="badge" x="1157" y="2850" width="78" height="37" rx="6"/><text class="bd" x="1196" y="2879">PER</text>
<g transform="translate(1288,2849)"><rect class="g0" x="0" y="0" width="17.5" height="17.5"/><rect class="g2" x="17" y="0" width="17.5" height="17.5"/><rect class="g0" x="34" y="0" width="17.5" height="17.5"/><rect class="g2" x="51" y="0" width="17.5" height="17.5"/><rect class="r0" x="68" y="0" width="17.5" height="17.5"/><rect class="r2" x="85" y="0" width="17.5" height="17.5"/><rect class="g3" x="102" y="0" width="17.5" height="17.5"/><rect class="g1" x="119" y="0" width="17.5" height="17.5"/><rect class="r1" x="136" y="0" width="17.5" height="17.5"/><rect class="k" x="153" y="0" width="17.5" height="17.5"/><rect class="r1" x="170" y="0" width="17.5" height="17.5"/><rect class="r2" x="187" y="0" width="17.5" height="17.5"/><rect class="r2" x="204" y="0" width="17.5" height="17.5"/><rect class="g2" x="221" y="0" width="18" height="17.5"/><rect class="k" x="0" y="17" width="17.5" height="17.5"/><rect class="k" x="17" y="17" width="17.5" height="17.5"/><rect class="r0" x="34" y="17" width="17.5" height="17.5"/><rect class="r1" x="51" y="17" width="17.5" height="17.5"/><rect class="r2" x="68" y="17" width="17.5" height="17.5"/><rect class="r3" x="85" y="17" width="17.5" height="17.5"/><rect class="r1" x="102" y="17" width="17.5" height="17.5"/><rect class="k" x="119" y="17" width="17.5" height="17.5"/><rect class="r3" x="136" y="17" width="17.5" height="17.5"/><rect class="r3" x="153" y="17" width="17.5" height="17.5"/><rect class="r3" x="170" y="17" width="17.5" height="17.5"/><rect class="r3" x="187" y="17" width="17.5" height="17.5"/><rect class="r3" x="204" y="17" width="17.5" height="17.5"/><rect class="r1" x="221" y="17" width="18" height="17.5"/></g>
<text class="c" x="1552" y="2878">(14)</text></g>
<g id="dir"><rect class="badge" x="1157" y="2901" width="78" height="37" rx="6"/><text class="bd" x="1196" y="2930">DIR</text>
<g transform="translate(1288,2901)"><rect class="g0" x="0" y="0" width="17.5" height="17"/><rect class="g2" x="17" y="0" width="17.5" height="17"/><rect class="g1" x="34" y="0" width="17.5" height="17"/><rect class="g0" x="51" y="0" width="17" height="17"/><rect class="r0" x="0" y="16.5" width="17.5" height="17"/><rect class="r0" x="17" y="16.5" width="17.5" height="17"/><rect class="r1" x="34" y="16.5" width="17.5" height="17"/><rect class="r0" x="51" y="16.5" width="17" height="17"/></g>
<text class="c" x="1380" y="2928">(4)</text></g>
<g id="lac"><rect class="badge" x="1157" y="2951" width="78" height="36" rx="6"/><text class="bd" x="1196" y="2980">LAC</text>
<g transform="translate(1288,2942)"><rect class="g3" x="0" y="0" width="17.5" height="17.5"/><rect class="g1" x="17" y="0" width="17" height="17.5"/><rect class="k" x="0" y="17" width="17.5" height="17.5"/><rect class="k" x="17" y="17" width="17" height="17.5"/></g>
<text class="c" x="1342" y="2970">(2)</text></g>
<g id="leuco"><text class="nm" x="193" y="2942">Leucoanthocyanidin</text></g>
<g id="ans"><text class="lab" x="102" y="3017">ANS</text></g>
<g id="lignin"><rect class="box" x="1197" y="3018" width="134" height="55"/><text x="1264" y="3058" font-size="41" text-anchor="middle">lignin</text></g>
<g id="anthocyanidin"><text class="nm" x="172" y="3074">Anthocyanidin</text></g>
<g id="ugft"><rect class="badge" x="62" y="3106" width="106" height="40" rx="6"/><text class="bd" x="115" y="3137">UGFT</text>
<g transform="translate(207,3114)">
<rect class="g1" x="0" y="0" width="17.5" height="17.5"/><rect class="g1" x="17" y="0" width="17.5" height="17.5"/><rect class="k" x="34" y="0" width="17.5" height="17.5"/><rect class="g1" x="51" y="0" width="17.5" height="17.5"/><rect class="g1" x="68" y="0" width="17.5" height="17.5"/><rect class="g1" x="85" y="0" width="17.5" height="17.5"/><rect class="g0" x="102" y="0" width="17.5" height="17.5"/><rect class="k" x="119" y="0" width="17.5" height="17.5"/><rect class="g3" x="136" y="0" width="17.5" height="17.5"/><rect class="g2" x="153" y="0" width="17.5" height="17.5"/><rect class="g2" x="170" y="0" width="17.5" height="17.5"/><rect class="g1" x="187" y="0" width="17.5" height="17.5"/><rect class="g3" x="204" y="0" width="17.5" height="17.5"/><rect class="g3" x="221" y="0" width="17.5" height="17.5"/><rect class="g1" x="238" y="0" width="17.5" height="17.5"/><rect class="g2" x="255" y="0" width="17.5" height="17.5"/><rect class="g3" x="272" y="0" width="17.5" height="17.5"/><rect class="g3" x="289" y="0" width="17.5" height="17.5"/><rect class="g2" x="306" y="0" width="17.5" height="17.5"/><rect class="g2" x="323" y="0" width="17.5" height="17.5"/><rect class="k" x="340" y="0" width="17.5" height="17.5"/><rect class="r0" x="357" y="0" width="17.5" height="17.5"/><rect class="k" x="374" y="0" width="17.5" height="17.5"/><rect class="g1" x="391" y="0" width="19" height="17.5"/>
<rect class="r1" x="0" y="17" width="17.5" height="17.5"/><rect class="k" x="17" y="17" width="17.5" height="17.5"/><rect class="r2" x="34" y="17" width="17.5" height="17.5"/><rect class="r2" x="51" y="17" width="17.5" height="17.5"/><rect class="r1" x="68" y="17" width="17.5" height="17.5"/><rect class="r3" x="85" y="17" width="17.5" height="17.5"/><rect class="r1" x="102" y="17" width="17.5" height="17.5"/><rect class="r2" x="119" y="17" width="17.5" height="17.5"/><rect class="r1" x="136" y="17" width="17.5" height="17.5"/><rect class="r0" x="153" y="17" width="17.5" height="17.5"/><rect class="r1" x="170" y="17" width="17.5" height="17.5"/><rect class="k" x="187" y="17" width="17.5" height="17.5"/><rect class="k" x="204" y="17" width="17.5" height="17.5"/><rect class="k" x="221" y="17" width="17.5" height="17.5"/><rect class="r1" x="238" y="17" width="17.5" height="17.5"/><rect class="r0" x="255" y="17" width="17.5" height="17.5"/><rect class="r1" x="272" y="17" width="17.5" height="17.5"/><rect class="k" x="289" y="17" width="17.5" height="17.5"/><rect class="k" x="306" y="17" width="17.5" height="17.5"/><rect class="k" x="323" y="17" width="17.5" height="17.5"/><rect class="r2" x="340" y="17" width="17.5" height="17.5"/><rect class="r2" x="357" y="17" width="17.5" height="17.5"/><rect class="r1" x="374" y="17" width="17.5" height="17.5"/><rect class="r0" x="391" y="17" width="19" height="17.5"/></g>
<text class="c" x="633" y="3142">(24)</text></g>
<g id="anthocyanin"><rect class="box" x="60" y="3183" width="254" height="61"/><text x="187" y="3228" font-size="43" text-anchor="middle">anthocyanin</text></g>
<g id="legend"><rect x="1714" y="3154" width="281" height="17" fill="url(#cbar)"/>
<text x="1714" y="3146" font-size="28">-1.5</text><text x="1840" y="3146" font-size="28" text-anchor="middle">0</text><text x="1928" y="3146" font-size="28">1.5</text>
<text x="1766" y="3207" font-size="28">log<tspan font-size="19" dy="8">10</tspan><tspan font-size="17" dy="-22">(FPKM)</tspan></text></g>
</svg>
